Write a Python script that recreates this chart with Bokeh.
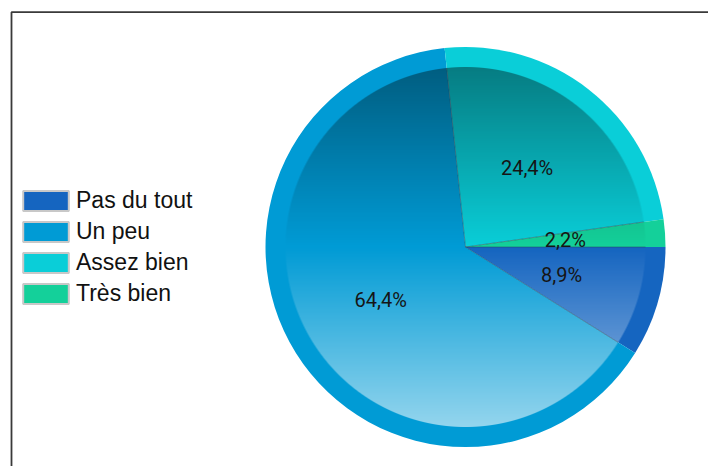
import numpy as np
from bokeh.plotting import figure
from bokeh.models import Range1d, Legend, LegendItem, ColumnDataSource
from bokeh.core.properties import value
from bokeh.embed import file_html
from bokeh.resources import INLINE

# ---- data ----
categories = ["Pas du tout", "Un peu", "Assez bien", "Très bien"]
counts = [4, 29, 11, 1]
colors = ["#1565C0", "#009BD5", "#0ACED8", "#14D09A"]

# ---- layout constants ----
W, H = 708, 466
CX, CY = 465, 219.5
R_OUT, R_IN = 200, 180
LABEL_R = 100

total = sum(counts)
fracs = np.array(counts, dtype=float) / total
cum = np.cumsum(fracs)
cum_before = np.concatenate([[0.0], cum[:-1]])
start = -2 * np.pi * cum
end = -2 * np.pi * cum_before
mid = (start + end) / 2
labels = [f"{100 * f:.1f}".replace(".", ",") + "%" for f in fracs]

src = ColumnDataSource(dict(cat=categories, start=start, end=end, color=colors,
                            lx=CX + LABEL_R * np.cos(mid), ly=CY + LABEL_R * np.sin(mid),
                            label=labels))

p = figure(width=W, height=H, x_range=Range1d(0, W), y_range=Range1d(0, H),
           output_backend="svg", toolbar_location=None, min_border=0)
p.axis.visible = False
p.grid.visible = False
p.outline_line_color = None
p.background_fill_color = "white"

# chart container border (top and left edges visible)
p.line(x=[11, 11, W + 5], y=[-5, 454.3, 454.3], line_color="#3a3a3a", line_width=1.8)

# pie slices
p.wedge(x=CX, y=CY, radius=R_OUT, start_angle="start", end_angle="end",
        fill_color="color", line_color=None, source=src)

# inner gradient overlay (dark at top, light at bottom)
n = 2 * R_IN
off = (np.arange(n) + 0.5) - R_IN
X, Y = np.meshgrid(off, off)
r = np.hypot(X, Y)
cover = np.clip(R_IN - r + 0.5, 0, 1)
t = (R_IN - Y) / (2 * R_IN)
dark = np.clip(1 - t / 0.5, 0, 1) * 0.4
light = np.clip((t - 0.5) / 0.5, 0, 1) * 0.58
img = np.zeros((n, n), dtype=np.uint32)
view = img.view(dtype=np.uint8).reshape((n, n, 4))
rgb = np.where(t >= 0.5, 255, 0).astype(np.uint8)
view[:, :, 0] = rgb
view[:, :, 1] = rgb
view[:, :, 2] = rgb
view[:, :, 3] = np.clip((dark + light) * cover * 255, 0, 255).astype(np.uint8)
p.image_rgba(image=[img], x=CX - R_IN, y=CY - R_IN, dw=n, dh=n)

# slice separators in inner area
p.ray(x=CX, y=CY, angle="end", length=R_IN, line_color="#2a3c50",
      line_alpha=0.45, line_width=1, source=src)

# percentage labels
p.text(x="lx", y="ly", text="label", source=src, text_align="center",
       text_baseline="middle", text_font_size="20px", text_color="#151515",
       text_font=value("Roboto"))

# legend (swatches via off-frame renderer)
leg_src = ColumnDataSource(dict(x=[-500] * 4, y=[-500] * 4, color=colors))
r_leg = p.rect(x="x", y="y", width=1, height=1, fill_color="color",
               line_color="#c8c8c8", line_width=2, source=leg_src)
items = [LegendItem(label=c, renderers=[r_leg], index=i) for i, c in enumerate(categories)]
legend = Legend(items=items, location=(17, 158.5), orientation="vertical",
                border_line_color=None, background_fill_alpha=0,
                padding=0, margin=0, spacing=3,
                glyph_width=57, glyph_height=25, label_height=28,
                label_standoff=2, label_text_font_size="23px",
                label_text_font="Liberation Sans", label_text_color="#111111")
p.add_layout(legend)

open("out.html", "w").write(file_html(p, INLINE))
